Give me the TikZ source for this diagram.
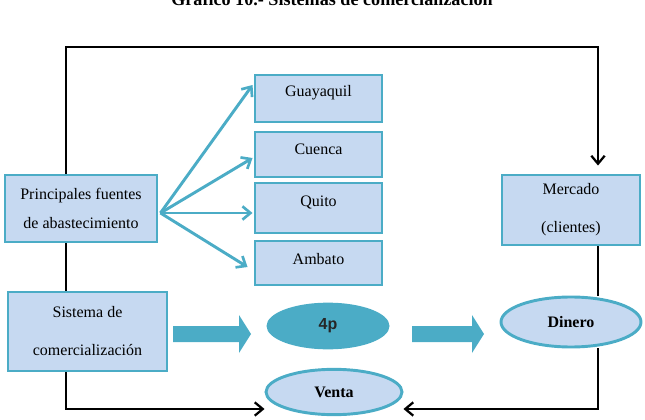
\documentclass[tikz,border=0pt]{standalone}
\usepackage{fontspec}
\setmainfont{Liberation Serif}
\newfontfamily\sansf{Liberation Sans}
\usetikzlibrary{arrows.meta,calc,shapes.geometric,backgrounds}
\definecolor{teal4}{HTML}{4BACC6}
\definecolor{lblue}{HTML}{C6D9F1}
\begin{document}
\begin{tikzpicture}[x=0.75pt,y=-0.75pt,
  box/.style={draw=teal4,line width=2.2pt,fill=lblue,inner sep=0pt},
  ell/.style={ellipse,draw=teal4,line width=2.2pt,fill=lblue,inner sep=0pt},
  conn/.style={line width=2.1pt,black,-{Straight Barb[length=6pt,width=10pt,line width=1.7pt]}},
  plainline/.style={line width=2.1pt,black},
  tarrow/.style={line width=2.2pt,teal4,-{Straight Barb[length=6pt,width=10pt,line width=2pt]}},
  lbl/.style={font=\fontsize{12}{14}\selectfont},
  blbl/.style={font=\bfseries\fontsize{12}{14}\selectfont},
]
\useasboundingbox (0,0) rectangle (645,420);
\node[font=\bfseries\fontsize{13.6}{16}\selectfont,anchor=base] (title) at (332,6) {Gráfico 10.- Sistemas de comercialización};

% boxes
\node[box,minimum width=114pt,minimum height=50.25pt,align=center,font=\fontsize{12}{21.75}\selectfont] (prin) at (81,208.5) {Principales fuentes\\de abastecimiento};
\node[box,minimum width=103.5pt,minimum height=52.5pt,align=center,font=\fontsize{12}{28.5}\selectfont] (merc) at (571,210) {Mercado\\(clientes)};
\node[box,minimum width=119.25pt,minimum height=59.25pt,align=center,font=\fontsize{12}{28.5}\selectfont] (sis) at (87.5,331.5) {Sistema de\\comercialización};

\node[box,minimum width=95.25pt,minimum height=35.25pt] (guay) at (318.5,98.5) {};
\node[lbl] (guayt) at (318.5,93) {Guayaquil};
\node[box,minimum width=95.25pt,minimum height=33.75pt] (cuen) at (318.5,154.5) {};
\node[lbl] (cuent) at (318.5,149) {Cuenca};
\node[box,minimum width=95.25pt,minimum height=37.5pt] (quit) at (318.5,208) {};
\node[lbl] (quitt) at (318.5,203) {Quito};
\node[box,minimum width=95.25pt,minimum height=33pt] (amb) at (318.5,263) {};
\node[lbl] (ambt) at (318.5,259) {Ambato};

% ellipses
\node[ellipse,fill=teal4,inner sep=0pt,minimum width=92.25pt,minimum height=35pt,font=\sansf\bfseries\fontsize{12}{14}\selectfont,text=black!85] (fourp) at (328,326) {4p};
\node[ell,blbl,minimum width=105pt,minimum height=37.5pt] (din) at (571,322) {Dinero};
\node[ell,blbl,minimum width=102pt,minimum height=34pt] (venta) at (334,392) {Venta};

% block arrows
\fill[teal4] (173,326) -- (239,326) -- (239,315) -- (251,334) -- (239,353) -- (239,342) -- (173,342) -- cycle;
\fill[teal4] (412,326) -- (472,326) -- (472,315) -- (484,334) -- (472,353) -- (472,342) -- (412,342) -- cycle;

% black connectors
\coordinate (L) at (66,47);
\coordinate (R) at (598,47);
\coordinate (B) at (0,409);
\begin{scope}[on background layer]
\draw[conn,shorten >=6pt] (prin.north -| L) -- (L) -- (R) -- (merc.north -| R);
\draw[plainline] (prin.south -| L) -- (sis.north -| L);
\draw[conn] (sis.south -| L) -- (L |- B) -- (venta.west |- B);
\draw[plainline] (merc.south -| R) -- (din.north -| R);
\draw[conn] (din.south -| R) -- (R |- B) -- (venta.east |- B);
\end{scope}

% teal fan
\coordinate (F) at ($(prin.east)+(2,4.5)$);
\draw[tarrow] (F) -- ($(guay.west)+(-1,-13.5)$);
\draw[tarrow] (F) -- ($(cuen.west)+(-1,3.5)$);
\draw[tarrow] (F) -- ($(quit.west)+(-1,5)$);
\draw[tarrow] (F) -- ($(amb.west)+(-6,4)$);
\end{tikzpicture}
\end{document}
